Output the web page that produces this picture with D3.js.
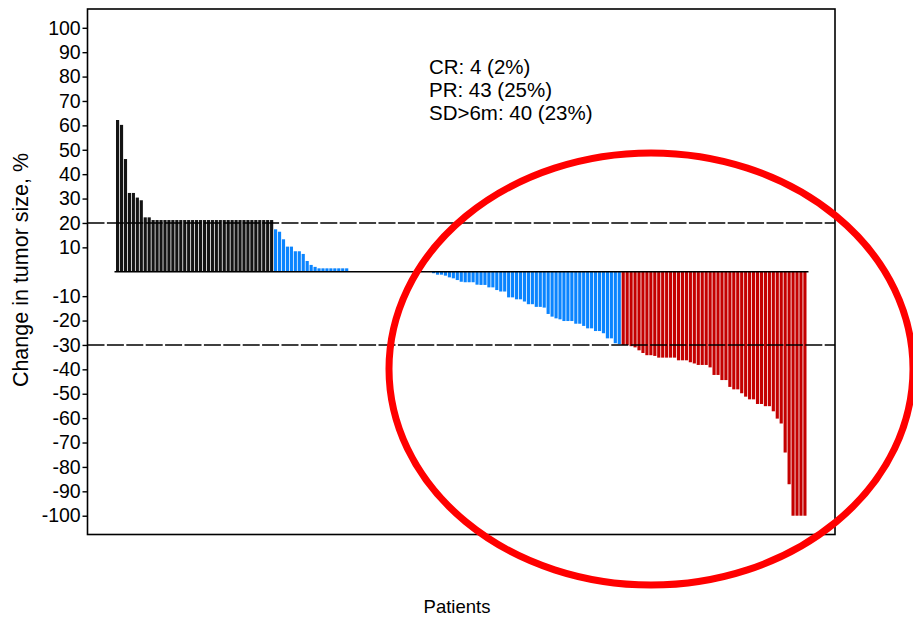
<!DOCTYPE html>
<html>
<head>
<meta charset="utf-8">
<script src="https://cdn.jsdelivr.net/npm/d3@7"></script>
<style>
  html, body { margin: 0; padding: 0; background: #fff; }
  svg { display: block; font-family: "Liberation Sans", Arial, sans-serif; }
</style>
</head>
<body>
<svg id="chart" width="913" height="619"></svg>
<script>
// Best change in tumor size per patient, ordered from largest increase to largest decrease
const progressionValues = [62.2, 60.2, 46.2, 32.3, 32.3, 30.4, 29.3, 22.3, 22.3,
  21.2, 21.2, 21.2, 21.2, 21.2, 21.2, 21.2, 21.2, 21.2, 21.2,
  21.2, 21.2, 21.2, 21.2, 21.2, 21.2, 21.2, 21.2, 21.2, 21.2,
  21.2, 21.2, 21.2, 21.2, 21.2, 21.2, 21.2, 21.2, 21.2, 21.2, 21.2];
const stableGrowthValues = [17.4, 16.4, 13.3, 10.3, 10.3, 8.4, 8.4, 7.3, 4.4, 2.8, 2.0,
  1.4, 1.4, 1.4, 1.4, 1.4, 1.4, 1.4, 1.4];
const unchangedValues = [0, 0, 0, 0, 0, 0, 0, 0, 0, 0, 0, 0, 0, 0, 0, 0, 0, 0, 0, 0, 0];
const stableShrinkValues = [-0.6, -1.2, -1.2, -1.6, -2.3, -2.7, -3.4, -4.1, -4.3, -4.3,
  -4.3, -5.3, -5.4, -5.4, -6.4, -6.4, -7.5, -8.1, -8.1, -10.5,
  -10.5, -11.3, -11.3, -12.2, -13.3, -13.3, -14.4, -14.4, -14.7, -17.3,
  -18.4, -19.1, -19.5, -20.2, -20.2, -20.2, -21.3, -21.3, -22.2, -23.2,
  -23.2, -24.3, -24.3, -25.2, -27.3, -27.3, -29.3, -29.7];
const responseValues = [-30, -30, -30.5, -31, -32.2, -33.3, -34.2, -34.2, -34.5, -35.2,
  -35.2, -35.2, -35.2, -35.2, -36.3, -36.3, -36.3, -37.1, -37.6, -38.2,
  -38.2, -38.2, -39.2, -42.3, -42.3, -44.4, -44.4, -47.2, -48.2, -48.2,
  -49.8, -51.2, -52.3, -52.3, -54.2, -54.2, -55.1, -55.1, -57.2, -60.2,
  -62.2, -74.1, -87.1, -100, -100, -100, -100];

const yTickValues = [100, 90, 80, 70, 60, 50, 40, 30, 20, 10,
  -10, -20, -30, -40, -50, -60, -70, -80, -90, -100];
const thresholdValues = [20, -30];
const summaryLines = ["CR: 4 (2%)", "PR: 43 (25%)", "SD>6m: 40 (23%)"];

const groupColors = {
  progression: "#141414",
  stable: "#0a84ff",
  response: "#c40000"
};

const patients = [
  ...progressionValues.map(v => ({ value: v, group: "progression" })),
  ...stableGrowthValues.map(v => ({ value: v, group: "stable" })),
  ...unchangedValues.map(v => ({ value: v, group: "stable" })),
  ...stableShrinkValues.map(v => ({ value: v, group: "stable" })),
  ...responseValues.map(v => ({ value: v, group: "response" }))
].map((d, i) => ({ ...d, id: i }));

const svg = d3.select("#chart");

const frame = { left: 87.5, right: 835, top: 9, bottom: 534.5 };

const y = d3.scaleLinear()
  .domain([-107.7, 107.7])
  .range([frame.bottom, frame.top]);

const x = d3.scaleBand()
  .domain(patients.map(d => d.id))
  .range([116, 806.5])
  .paddingInner(0.2)
  .paddingOuter(0);

// Bars
svg.append("g")
  .selectAll("rect")
  .data(patients.filter(d => d.value !== 0))
  .join("rect")
  .attr("x", d => x(d.id))
  .attr("width", x.bandwidth())
  .attr("y", d => y(Math.max(0, d.value)))
  .attr("height", d => Math.abs(y(d.value) - y(0)))
  .attr("fill", d => groupColors[d.group]);

// Zero baseline
svg.append("line")
  .attr("x1", 114.5)
  .attr("x2", 808.5)
  .attr("y1", y(0))
  .attr("y2", y(0))
  .attr("stroke", "#000")
  .attr("stroke-width", 1.6);

// Threshold lines (+20% progression, -30% response)
svg.append("g")
  .selectAll("line")
  .data(thresholdValues)
  .join("line")
  .attr("x1", frame.left)
  .attr("x2", frame.right)
  .attr("y1", d => y(d))
  .attr("y2", d => y(d))
  .attr("stroke", "#000")
  .attr("stroke-width", 1.6)
  .attr("stroke-dasharray", "17,2.4");

// Plot frame
svg.append("rect")
  .attr("x", frame.left)
  .attr("y", frame.top)
  .attr("width", frame.right - frame.left)
  .attr("height", frame.bottom - frame.top)
  .attr("fill", "none")
  .attr("stroke", "#000")
  .attr("stroke-width", 1.6);

// Y axis
const yAxis = svg.append("g")
  .attr("transform", `translate(${frame.left},0)`)
  .call(d3.axisLeft(y)
    .tickValues(yTickValues)
    .tickSize(5)
    .tickPadding(2)
    .tickFormat(d => d));
yAxis.select(".domain").remove();
yAxis.selectAll(".tick line").attr("stroke", "#000").attr("stroke-width", 1.4);
yAxis.selectAll(".tick text")
  .attr("fill", "#000")
  .style("font-size", "19.5px")
  .style("font-family", "'Liberation Sans', Arial, sans-serif")
  .attr("letter-spacing", "-0.1");

// Axis titles
svg.append("text")
  .attr("transform", `translate(28,270) rotate(-90)`)
  .attr("text-anchor", "middle")
  .style("font-size", "21.5px")
  .attr("fill", "#000")
  .text("Change in tumor size, %");

svg.append("text")
  .attr("x", 457)
  .attr("y", 613)
  .attr("text-anchor", "middle")
  .style("font-size", "18.5px")
  .attr("fill", "#000")
  .text("Patients");

// Response summary
svg.append("g")
  .selectAll("text")
  .data(summaryLines)
  .join("text")
  .attr("x", 429)
  .attr("y", (d, i) => 73.5 + i * 23.3)
  .style("font-size", "20.5px")
  .attr("fill", "#000")
  .text(d => d);

// Highlight around the responding patients
svg.append("ellipse")
  .attr("cx", 651)
  .attr("cy", 369)
  .attr("rx", 262)
  .attr("ry", 216)
  .attr("fill", "none")
  .attr("stroke", "#ff0000")
  .attr("stroke-width", 7);
</script>
</body>
</html>
